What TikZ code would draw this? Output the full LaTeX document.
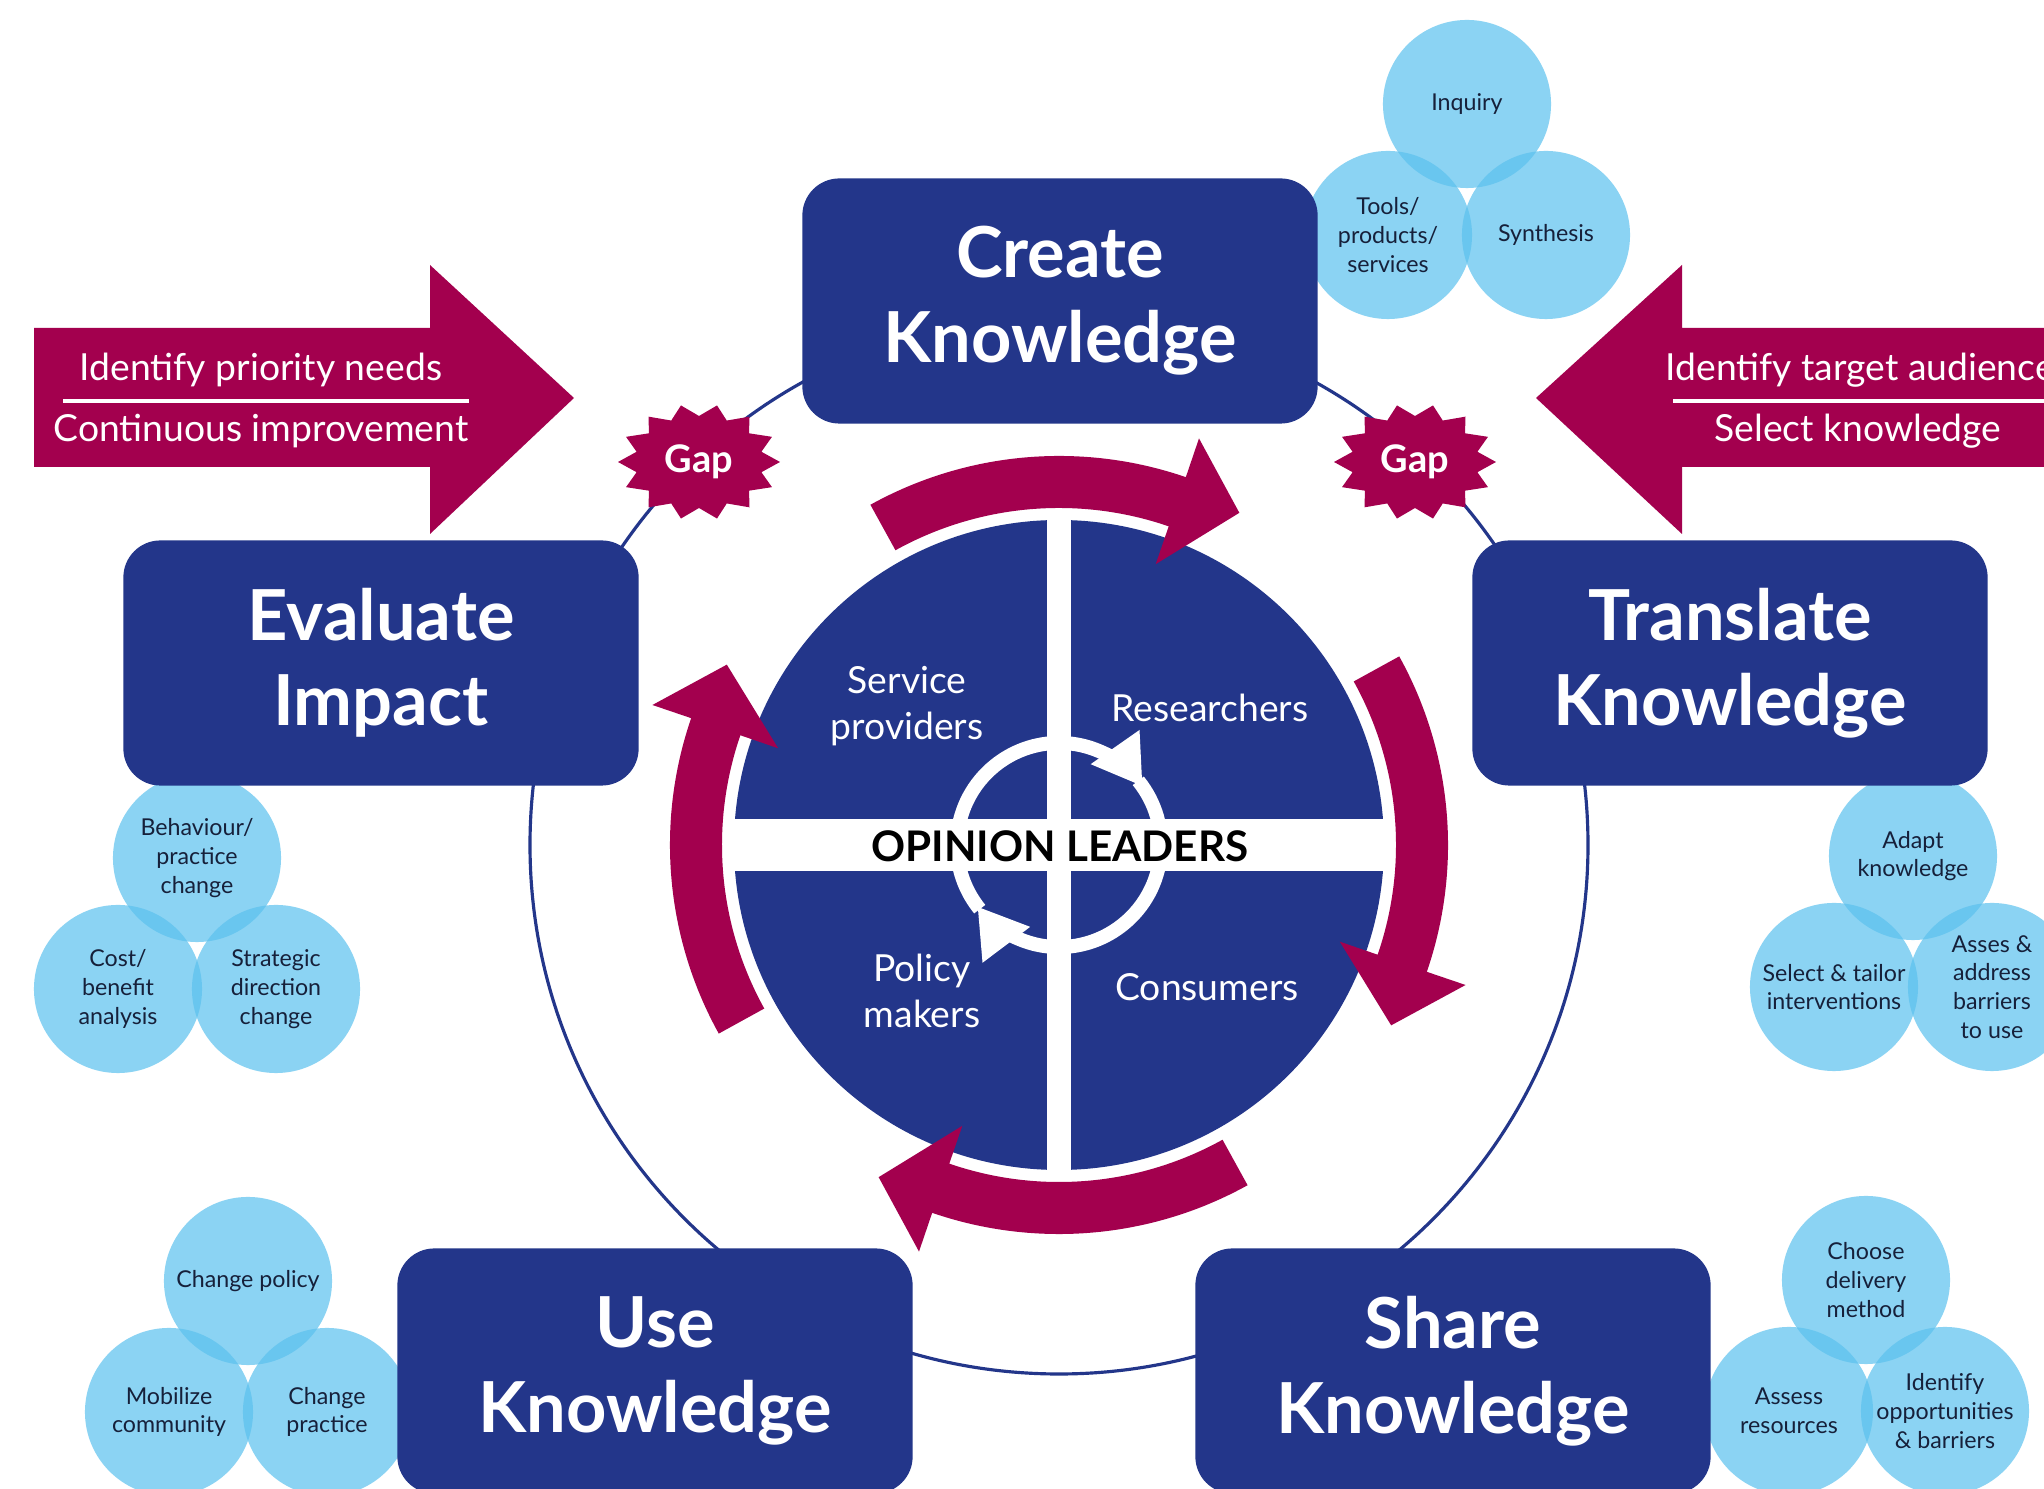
\documentclass[tikz,border=0pt]{standalone}
\usepackage{fontspec}
\setmainfont{Lato}
\usetikzlibrary{arrows.meta}

\definecolor{navy}{RGB}{35,54,138}
\definecolor{wine}{RGB}{163,0,78}
\definecolor{sky}{RGB}{91,193,238}
\definecolor{ink}{RGB}{22,32,58}

\tikzset{
  stage/.style={fill=navy, rounded corners=0.37cm, minimum width=5.15cm,
    minimum height=2.45cm, text=white, align=center,
    font=\fontsize{20}{24.2}\selectfont\bfseries},
  bubble/.style={circle, fill=sky, fill opacity=0.7, text opacity=1, text=ink,
    minimum size=1.68cm, inner sep=0pt, align=center,
    font=\fontsize{6.6}{8.2}\selectfont},
  banner/.style={text=white, inner sep=0pt, font=\fontsize{10.6}{12}\selectfont},
  group/.style={text=white, align=center, inner sep=0pt,
    font=\fontsize{10.6}{13}\selectfont},
  gaptext/.style={text=white, inner sep=0pt, font=\fontsize{10.8}{12}\selectfont\bfseries},
}

\begin{document}
\begin{tikzpicture}[x=0.01cm, y=0.01cm]
  \clip (0,0) rectangle (2044,-1489);
  \fill[white] (0,0) rectangle (2044,-1489);
  \coordinate (hub) at (1059,-845);

  % the cycle ring behind the five stages
  \draw[navy, line width=0.9pt] (hub) circle (529);

  % bubble clusters
  \node[bubble] (inquiry)   at (1467,-104) {Inquiry};
  \node[bubble] (tools)     at (1388,-235) {Tools/\\products/\\services};
  \node[bubble] (synthesis) at (1546,-235) {Synthesis};

  \node[bubble] (behaviour) at (197,-858) {Behaviour/\\practice\\change};
  \node[bubble] (costben)   at (118,-989) {Cost/\\benefit\\analysis};
  \node[bubble] (strategic) at (276,-989) {Strategic\\direction\\change};

  \node[bubble] (adapt)     at (1913,-856) {Adapt\\knowledge};
  \node[bubble] (tailor)    at (1834,-987) {Select \& tailor\\interventions};
  \node[bubble] (barriers)  at (1992,-987) {Asses \&\\address\\barriers\\to use};

  \node[bubble] (policy)    at (248,-1281) {Change policy};
  \node[bubble] (community) at (169,-1412) {Mobilize\\community};
  \node[bubble] (practice)  at (327,-1412) {Change\\practice};

  \node[bubble] (delivery)  at (1866,-1280) {Choose\\delivery\\method};
  \node[bubble] (resources) at (1789,-1411) {Assess\\resources};
  \node[bubble] (opport)    at (1945,-1411) {Identify\\opportunities\\\& barriers};

  % stages
  \node[stage] (create)    at (1060,-301)  {Create\\Knowledge};
  \node[stage] (evaluate)  at (381,-663)   {Evaluate\\Impact};
  \node[stage] (translate) at (1730,-663)  {Translate\\Knowledge};
  \node[stage] (use)       at (655,-1371)  {Use\\Knowledge};
  \node[stage] (share)     at (1453,-1371) {Share\\Knowledge};

  % big arrows
  \fill[wine] (34,-328) -- (430,-328) -- (430,-265) -- (574,-398) -- (430,-534)
    -- (430,-467) -- (34,-467) -- cycle;
  \node[banner] (needs)   at (261,-370) {Identify priority needs};
  \node[banner] (improve) at (261,-431) {Continuous improvement};
  \draw[white, line width=1.3pt] (63,-401) -- (469,-401);

  \fill[wine] (2060,-328) -- (1682,-328) -- (1682,-265) -- (1536,-398) -- (1682,-534)
    -- (1682,-467) -- (2060,-467) -- cycle;
  \node[banner, anchor=west] (audience) at (1665,-370) {Identify target audience};
  \node[banner] (select) at (1858,-431) {Select knowledge};
  \draw[white, line width=1.3pt] (1673,-401) -- (2050,-401);

  % gap stars
  \foreach \gx/\gn in {699/gapL, 1415/gapR} {
    \fill[wine, shift={(\gx,-462)}] plot[samples=28, domain=0:27]
      ({(81-17*mod(round(\x),2))*cos(\x*360/28)}, {(58-12*mod(round(\x),2))*sin(\x*360/28)}) -- cycle;
    \node[gaptext] (\gn) at (\gx,-462) {Gap};
  }

  % opinion leader wheel
  \begin{scope}[shift={(hub)}]
    \fill[navy] (0,0) circle (325);
    \fill[white] (-12,-328) rectangle (12,328);
    \fill[white] (-330,-26) rectangle (330,26);
    \draw[white, line width=0.14cm, -{Triangle[length=0.48cm, width=0.56cm]}]
      (219:102) arc[start angle=219, end angle=35, radius=1.02cm];
    \draw[white, line width=0.14cm, -{Triangle[length=0.48cm, width=0.56cm]}]
      (39:102) arc[start angle=39, end angle=-143, radius=1.02cm];
    \foreach \a in {119,29,-61,-151}
      \fill[wine] (\a:389) arc[start angle=\a, end angle=\a-48, radius=3.89cm]
        -- ({\a-48}:430) -- ({\a-57.5}:378) -- ({\a-48}:297) -- ({\a-48}:337)
        arc[start angle=\a-48, end angle=\a, radius=3.37cm] -- cycle;
  \end{scope}
  \node[group] (providers)   at (907,-706)  {Service\\providers};
  \node[group] (researchers) at (1210,-708) {Researchers};
  \node[group] (makers)      at (922,-991)  {Policy\\makers};
  \node[group] (consumers)   at (1207,-987) {Consumers};
  \node[font=\fontsize{12}{14}\selectfont\bfseries, inner sep=0pt] (leaders) at (1060,-846) {OPINION LEADERS};
\end{tikzpicture}
\end{document}
